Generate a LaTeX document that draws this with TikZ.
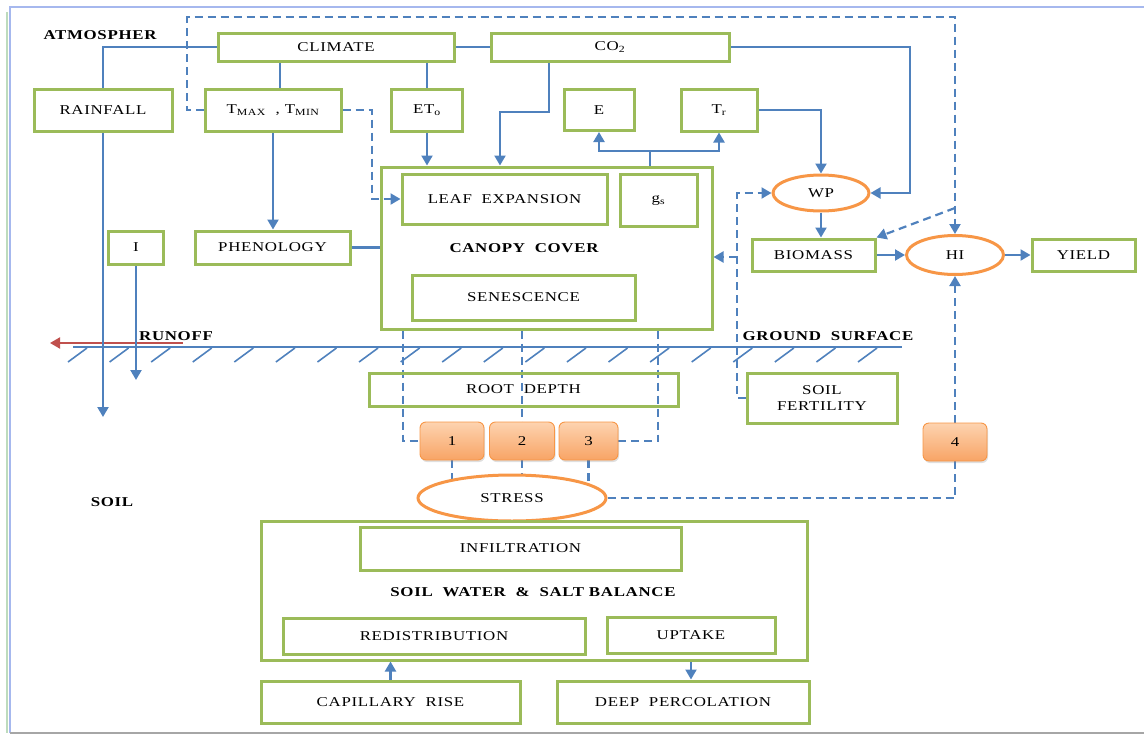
\documentclass[tikz,border=0pt]{standalone}
\usepackage{fontspec}
\setmainfont{Liberation Serif}[FakeStretch=1.25,LetterSpace=5]
\usetikzlibrary{arrows.meta,shapes.geometric,shadows}
\definecolor{grn}{HTML}{9BBB59}
\definecolor{blu}{HTML}{4F81BD}
\definecolor{org}{HTML}{F79646}
\definecolor{rdc}{HTML}{C0504D}
\definecolor{frm}{HTML}{A6B8EE}
\definecolor{otop}{HTML}{FDD3B0}
\definecolor{obot}{HTML}{F8A465}
\pgfdeclarelayer{bg}
\pgfsetlayers{bg,main}
\begin{document}
\begin{tikzpicture}[x=1pt,y=-1pt,
  tx/.style={font=\fontsize{13.5}{16}\selectfont},
  bt/.style={font=\fontsize{13.5}{16}\selectfont\bfseries},
  gbox/.style={tx,draw=grn,line width=3pt,inner sep=0pt,align=center},
  ell/.style={tx,ellipse,draw=org,line width=3pt,fill=white,inner sep=0pt},
  obox/.style={tx,draw=org,line width=0.9pt,rounded corners=6pt,top color=otop,bottom color=obot,inner sep=0pt,
    drop shadow={opacity=0.25,shadow xshift=1pt,shadow yshift=-2pt}},
  ln/.style={draw=blu,line width=2.2pt},
  ar/.style={ln,-{Triangle[length=10pt,width=11pt]}},
  dl/.style={ln,dash pattern=on 8pt off 5pt},
  dar/.style={dl,-{Triangle[length=10pt,width=11pt]}},
  hatch/.style={draw=blu,line width=1.6pt}
]
\useasboundingbox (0,0) rectangle (1144,734);
% frame
\draw[frm,line width=2.4pt] (1144,7) -- (10,7) -- (10,733);
\draw[green!30!gray!40,line width=2pt] (7,12) -- (7,733);
\draw[gray!70,line width=1.4pt] (10,733) -- (1144,733);

% labels
\node[bt] (atm) at (100,35) {ATMOSPHER};
\node[bt] (runoff) at (176,336) {RUNOFF};
\node[bt] (ground) at (828,336) {GROUND~~SURFACE};
\node[bt] (soil) at (112,502) {SOIL};

% boxes
\node[gbox,minimum width=236pt,minimum height=28pt] (climate) at (336,47) {CLIMATE};
\node[gbox,minimum width=238pt,minimum height=28pt] (co2) at (610,47) {CO\textsubscript{2}};
\node[gbox,minimum width=138pt,minimum height=42pt] (rain) at (103,110) {RAINFALL};
\node[gbox,minimum width=136pt,minimum height=42pt] (tmax) at (273,110) {T\textsubscript{MAX}~~, T\textsubscript{MIN}};
\node[gbox,minimum width=71pt,minimum height=42pt] (eto) at (427,110) {ET\textsubscript{o}};
\node[gbox,minimum width=70pt,minimum height=41pt] (e) at (599,110) {E};
\node[gbox,minimum width=76pt,minimum height=42pt] (tr) at (719,110) {T\textsubscript{r}};
\node[gbox,minimum width=331pt,minimum height=162pt] (canopy) at (546.5,248) {};
\node[bt] (canopyt) at (524,248) {CANOPY~~COVER};
\node[gbox,minimum width=205pt,minimum height=50pt] (leaf) at (504.5,199) {LEAF~~EXPANSION};
\node[gbox,minimum width=77pt,minimum height=52pt] (gs) at (658.5,200) {g\textsubscript{s}};
\node[gbox,minimum width=223pt,minimum height=45pt] (senes) at (523.5,297.5) {SENESCENCE};
\node[gbox,minimum width=155pt,minimum height=33pt] (pheno) at (272.5,247.5) {PHENOLOGY};
\node[gbox,minimum width=55pt,minimum height=33pt] (ibox) at (136,247.5) {I};
\node[ell,minimum width=96pt,minimum height=36pt] (wp) at (821,193) {WP};
\node[gbox,minimum width=123pt,minimum height=32pt] (biomass) at (813.5,255) {BIOMASS};
\node[ell,minimum width=97pt,minimum height=39pt] (hi) at (955,255) {HI};
\node[gbox,minimum width=103pt,minimum height=32pt] (yield) at (1083.5,255) {YIELD};
\node[gbox,minimum width=309pt,minimum height=33pt] (root) at (523.5,389.5) {ROOT~~DEPTH};
\node[gbox,minimum width=150pt,minimum height=50pt] (fert) at (822,398) {SOIL\\FERTILITY};
\node[obox,minimum width=64pt,minimum height=38pt] (b1) at (452,441) {1};
\node[obox,minimum width=65pt,minimum height=38pt] (b2) at (522,441) {2};
\node[obox,minimum width=59pt,minimum height=38pt] (b3) at (588.5,441) {3};
\node[obox,minimum width=64pt,minimum height=38pt] (b4) at (955,442) {4};
\node[ell,minimum width=188pt,minimum height=46pt] (stress) at (512,498) {STRESS};
\node[gbox,minimum width=546pt,minimum height=139pt] (soilwater) at (534,590.5) {};
\node[bt] (soilwatert) at (533,592) {SOIL~~WATER~~\&~~SALT BALANCE};
\node[gbox,minimum width=321pt,minimum height=43pt] (infil) at (520.5,548.5) {INFILTRATION};
\node[gbox,minimum width=302pt,minimum height=36pt] (redis) at (434,636) {REDISTRIBUTION};
\node[gbox,minimum width=168pt,minimum height=36pt] (uptake) at (691,635) {UPTAKE};
\node[gbox,minimum width=259pt,minimum height=42pt] (capil) at (390.5,702) {CAPILLARY~~RISE};
\node[gbox,minimum width=252pt,minimum height=42pt] (deep) at (683,702) {DEEP~~PERCOLATION};

% helper coordinates
\coordinate (c1) at (549,112);
\coordinate (c2) at (500,112);
\coordinate (c3) at (910,193);
\coordinate (c4) at (821,110);
\coordinate (c5) at (650,151);
\coordinate (rainend) at (103,417);
\coordinate (iend) at (136,380);
\coordinate (d1) at (187,17);
\coordinate (d2) at (955,17);
\coordinate (d3) at (955,208);
\coordinate (d4) at (372,110);
\coordinate (d5) at (737,193);
\coordinate (d6) at (737,257);
\coordinate (d7) at (403,441);
\coordinate (d8) at (658,441);
\coordinate (g1) at (73,347);
\coordinate (g2) at (902,347);
\coordinate (r1) at (183,343);
\coordinate (r2) at (50,343);

\begin{pgfonlayer}{bg}
% ground surface
\draw[hatch] (g1) -- (g2);
\foreach \i in {0,...,19} \draw[hatch] ({87+\i*41.58},348) -- ++(-19,14);
\draw[draw=rdc,line width=2pt,-{Triangle[length=10pt,width=11pt]}] (r1) -- (r2);
% solid connectors
\draw[ln] (climate.west) -| (rain.north);
\draw[ln] ([xshift=7pt]tmax.north) -- ([xshift=7pt]tmax.north |- climate.south);
\draw[ln] (eto.north) -- (eto.north |- climate.south);
\draw[ln] (climate.east) -- (co2.west);
\draw[ar] (co2.south -| c1) -- (c1) -- (c2) -- (c2 |- canopy.north);
\draw[ar] (co2.east) -| (c3) -- (wp.east);
\draw[ar] (tr.east) -- (c4) -- (wp.north);
\draw[ln] (c5 |- canopy.north) -- (c5);
\draw[ar] (c5) -| (e.south);
\draw[ar] (c5) -| (tr.south);
\draw[ar] (eto.south) -- (eto.south |- canopy.north);
\draw[ar] (tmax.south) -- (tmax.south |- pheno.north);
\draw[ln] (pheno.east) -- (pheno.east -| canopy.west);
\draw[ar] (rain.south) -- (rainend);
\draw[ar] (ibox.south) -- (iend);
\draw[ar] (wp.south) -- (wp.south |- biomass.north);
\draw[ar] (biomass.east) -- (hi.west);
\draw[ar] (hi.east) -- (yield.west);
\draw[ar] (capil.north) -- (capil.north |- soilwater.south);
\draw[ar] (soilwater.south -| uptake.south) -- (deep.north -| uptake.south);
% dashed connectors
\draw[dar] (tmax.west) -| (d1) -- (d2) -- (hi.north);
\draw[dar] (d3) -- (biomass.north east);
\draw[dar] (tmax.east) -- (d4) |- (leaf.west);
\draw[dar] (fert.west) -| (d5) -- (wp.west);
\draw[dar] (d6) -- (d6 -| canopy.east);
\draw[dl] (d7 |- canopy.south) -- (d7) -- (b1.west);
\draw[dl] (b2.north |- canopy.south) -- (b2.north);
\draw[dl] (d8 |- canopy.south) -- (d8) -- (b3.east);
\draw[dl] (b1.south) -- (b1.south |- stress.center);
\draw[dl] (b2.south) -- (b2.south |- stress.center);
\draw[dl] (b3.south) -- (b3.south |- stress.center);
\draw[dl] (stress.east) -| (b4.south);
\draw[dar] (b4.north) -- (hi.south);
\end{pgfonlayer}
\end{tikzpicture}
\end{document}
